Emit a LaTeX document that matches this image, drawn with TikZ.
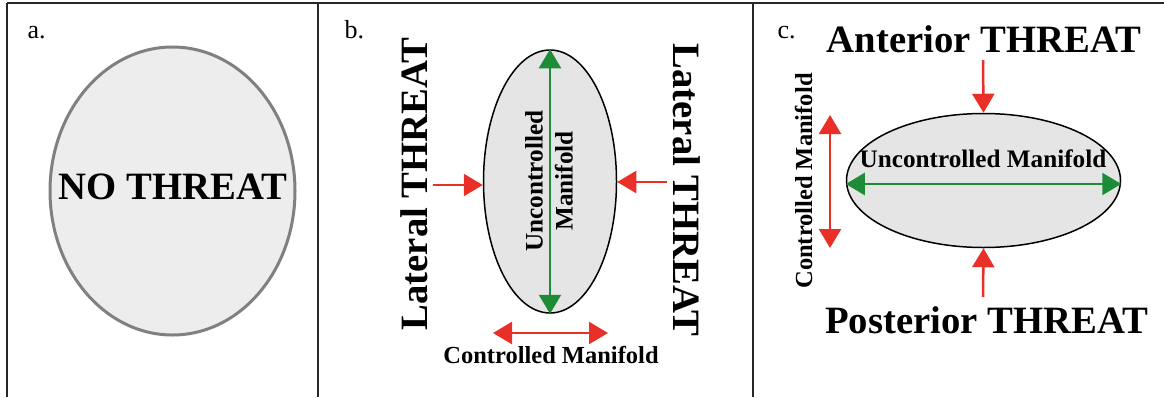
\documentclass[tikz,border=0pt]{standalone}
\usepackage{fontspec}
\setmainfont{Liberation Serif}
\usetikzlibrary{arrows.meta,shapes.geometric,positioning}
\definecolor{threatred}{RGB}{232,48,40}
\definecolor{ucmgreen}{RGB}{30,140,55}
\tikzset{
    frameline/.style={black!85, line width=2pt},
    blob/.style={ellipse, draw=black, line width=1.5pt, fill=black!10, inner sep=0pt},
    bigtip/.tip={Triangle[width=22pt,length=19pt]},
    redarrow/.style={threatred, line width=2.5pt, -bigtip},
    greenarrow/.style={ucmgreen, line width=2.5pt, bigtip-bigtip},
    bigtext/.style={font=\bfseries\fontsize{38.7}{40}\selectfont},
    midtext/.style={font=\bfseries\fontsize{25.2}{30}\selectfont},
    smalltext/.style={font=\bfseries\fontsize{24.5}{26}\selectfont},
    panellabel/.style={font=\fontsize{26}{28}\selectfont, anchor=base west}
}
\begin{document}
\begin{tikzpicture}[x=1pt, y=-1pt]
    \useasboundingbox (0, 0) rectangle (1164, 397);

    % Frame
    \draw[frameline] (7, 3) -- (1164, 3);
    \draw[frameline] (7, 3) -- (7, 397);
    \draw[frameline] (318, 3) -- (318, 397);
    \draw[frameline] (752.5, 3) -- (752.5, 397);

    % No threat
    \node[panellabel] (labA) at (24, 38) {a.};
    \node[blob, draw=black!50, line width=3pt, fill=black!7, minimum width=245pt, minimum height=288pt] (ellA) at (172.5, 191) {};
    \node[bigtext, anchor=base] (noThreat) at (173, 199) {NO THREAT};

    % Lateral threat
    \node[panellabel] (labB) at (341, 38) {b.};
    \node[blob, minimum width=133pt, minimum height=263pt] (ellB) at (550, 181.5) {};
    \draw[greenarrow] (ellB.north) -- (ellB.south);
    \node[midtext, align=center, rotate=90] (ucmB) at (549, 181) {Uncontrolled\\Manifold};
    \node[bigtext, anchor=base, rotate=90] (latL) at (427, 184) {Lateral THREAT};
    \node[bigtext, anchor=base, rotate=-90] (latR) at (673, 190) {Lateral THREAT};
    \coordinate (latLfrom) at (433, 185);
    \coordinate (latRfrom) at (667, 182);
    \draw[redarrow] (latLfrom) -- (latLfrom -| ellB.west);
    \draw[redarrow] (latRfrom) -- (latRfrom -| ellB.east);
    \coordinate (cmBleft) at (493, 333);
    \coordinate (cmBright) at (608, 333);
    \draw[redarrow, bigtip-bigtip] (cmBleft) -- (cmBright);
    \node[smalltext, anchor=base] (cmB) at (551, 363) {Controlled Manifold};

    % Anterior / posterior threat
    \node[panellabel] (labC) at (774, 38) {c.};
    \node[blob, minimum width=274pt, minimum height=134pt] (ellC) at (983.5, 180.5) {};
    \draw[greenarrow] (ellC.west |- 0, 184) -- (ellC.east |- 0, 184);
    \node[midtext, anchor=base] (ucmC) at (983, 167) {Uncontrolled Manifold};
    \node[bigtext, anchor=base] (antThreat) at (984, 52) {Anterior THREAT};
    \node[bigtext, anchor=base] (postThreat) at (986.5, 333) {Posterior THREAT};
    \coordinate (antFrom) at (983, 60);
    \coordinate (postFrom) at (983, 297);
    \draw[redarrow] (antFrom) -- (ellC.north);
    \draw[redarrow] (postFrom) -- (ellC.south);
    \coordinate (cmCtop) at (830, 115);
    \coordinate (cmCbottom) at (830, 248);
    \draw[redarrow, bigtip-bigtip] (cmCtop) -- (cmCbottom);
    \node[smalltext, anchor=base, rotate=90] (cmC) at (812, 181) {Controlled Manifold};
\end{tikzpicture}
\end{document}
